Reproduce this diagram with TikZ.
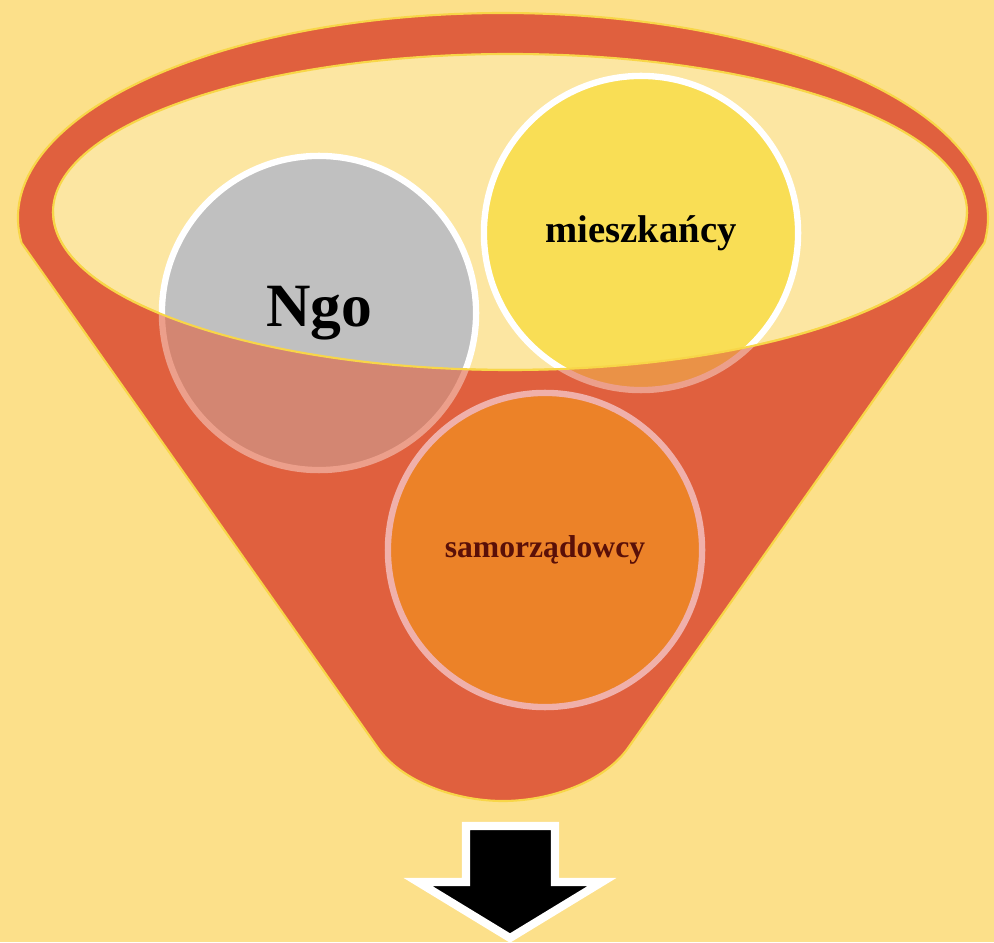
\documentclass[tikz,border=0pt]{standalone}
\usepackage{fontspec}
\setmainfont{Liberation Serif}

\definecolor{bgyellow}{HTML}{FCE08A}
\definecolor{funnelred}{HTML}{E0603E}
\definecolor{innerlight}{HTML}{FCE6A2}
\definecolor{rimline}{HTML}{F8D648}
\definecolor{ngogray}{HTML}{C0C0C0}
\definecolor{resyellow}{HTML}{F9DE55}
\definecolor{govorange}{HTML}{EC8228}
\definecolor{pinkrim}{HTML}{F0B0AA}
\definecolor{maroon}{HTML}{5A1008}

\newcommand{\funnelshape}{(21.6,699) arc[start angle=187, end angle=-7, x radius=485, y radius=205]
  -- (628,194) .. controls (604,160) and (550,141) .. (503,141)
  .. controls (456,141) and (402,160) .. (378,194) -- cycle}

\tikzset{
  group/.style={circle, draw=white, line width=1.8pt, minimum size=3.14cm, inner sep=0pt},
  rim/.style={draw=rimline, line width=0.6pt},
}

\begin{document}
\begin{tikzpicture}[x=0.01cm, y=0.01cm]
  \useasboundingbox (0,0) rectangle (994,942);
  \fill[bgyellow] (0,0) rectangle (994,942);

  % funnel back and its opening
  \fill[funnelred] \funnelshape;
  \draw[rim, fill=innerlight] (510,730) ellipse [x radius=457, y radius=158];

  \node[group, fill=ngogray, font=\bfseries\fontsize{17.5}{19}\selectfont] (ngo) at (319,629) {Ngo};
  \node[group, fill=resyellow, font=\bfseries\fontsize{11}{13}\selectfont] (mieszkancy) at (641,709) {mieszkańcy};

  % front of the funnel
  \begin{scope}
    \clip \funnelshape;
    \fill[funnelred, opacity=0.6] (53,730) arc[start angle=180, end angle=360, x radius=457, y radius=158]
      -- (1000,-10) -- (-10,-10) -- cycle;
  \end{scope}
  \draw[rim] (53,730) arc[start angle=180, end angle=360, x radius=457, y radius=158];
  \draw[rim] \funnelshape;

  \node[group, draw=pinkrim, fill=govorange, text=maroon, font=\bfseries\fontsize{9}{11}\selectfont] (samorzad) at (545,392) {samorządowcy};

  % arrow
  \draw[white, line width=2.3pt, fill=black] (466,116) -- (555,116) -- (555,60) -- (602,60)
    -- (510,4) -- (418,60) -- (466,60) -- cycle;
\end{tikzpicture}
\end{document}
